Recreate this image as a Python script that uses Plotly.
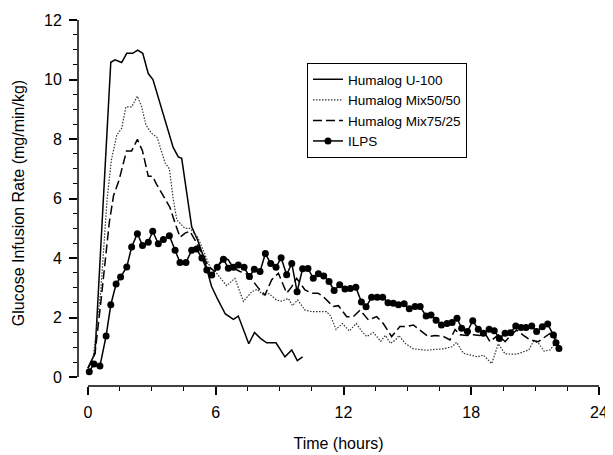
import plotly.graph_objects as go

# ---- data (hours, mg/min/kg) ----
u100_t = [0, 0.33, 1.07, 1.27, 1.58, 1.82, 2.1, 2.33, 2.57, 2.83, 3.05, 3.5, 4.0, 4.24, 4.4, 4.87, 5.15, 5.42, 5.8, 6.1, 6.45, 6.83, 7.06, 7.55, 7.82, 8.1, 8.39, 8.83, 9.25, 9.57, 9.83, 10.08]
u100_v = [0.3, 0.8, 10.58, 10.66, 10.57, 10.88, 10.88, 10.99, 10.88, 10.2, 10.0, 8.9, 7.72, 7.4, 7.35, 5.05, 4.6, 4.05, 3.05, 2.6, 2.12, 1.94, 2.05, 1.12, 1.5, 1.3, 1.15, 1.15, 0.68, 0.91, 0.55, 0.68]

mix50_t = [0, 0.25, 0.6, 0.9, 1.1, 1.35, 1.58, 1.78, 2.05, 2.32, 2.52, 2.72, 2.99, 3.25, 3.62, 3.82, 4.0, 4.17, 4.32, 4.55, 4.79, 5.15, 5.45, 5.73, 6.04, 6.51, 6.9, 7.3, 7.69, 7.95, 8.23, 8.5, 8.86, 9.1, 9.41, 9.6, 9.85, 10.19, 10.5, 10.9, 11.2, 11.4, 11.65, 11.95, 12.27, 12.6, 12.9, 13.1, 13.4, 13.75, 13.97, 14.2, 14.45, 14.6, 14.9, 15.28, 15.6, 15.9, 16.3, 16.7, 17.1, 17.31, 17.63, 17.95, 18.3, 18.57, 18.96, 19.27, 19.59, 19.9, 20.13, 20.45, 20.7, 20.92, 21.15, 21.42, 21.7, 21.93, 22.09]
mix50_v = [0.3, 0.7, 2.9, 6.0, 7.3, 8.13, 8.36, 9.08, 9.08, 9.44, 9.08, 8.47, 8.19, 8.05, 7.2, 7.0, 6.0, 5.28, 5.17, 5.0, 5.0, 4.7, 4.2, 3.7, 3.49, 3.07, 3.32, 2.54, 2.87, 2.95, 2.76, 2.8, 2.59, 2.55, 2.64, 2.4, 2.59, 2.25, 2.2, 2.2, 2.2, 2.05, 1.6, 1.8, 1.55, 1.8, 1.5, 1.36, 1.5, 1.2, 1.4, 1.13, 1.25, 1.4, 1.13, 0.95, 0.93, 0.9, 0.93, 0.95, 1.02, 1.17, 0.8, 0.75, 0.68, 0.74, 0.45, 1.12, 0.78, 0.77, 0.77, 0.85, 0.91, 1.2, 1.15, 0.87, 0.91, 1.12, 1.02]

mix75_t = [0, 0.33, 0.6, 1.0, 1.2, 1.45, 1.81, 2.05, 2.32, 2.56, 2.83, 3.04, 3.2, 3.54, 3.85, 4.09, 4.32, 4.56, 4.79, 5.26, 5.65, 5.95, 6.36, 6.59, 6.83, 7.14, 7.53, 8.0, 8.31, 8.63, 8.94, 9.33, 9.57, 9.8, 10.19, 10.51, 10.8, 11.05, 11.52, 11.76, 12.15, 12.46, 12.78, 13.17, 13.56, 13.87, 14.26, 14.65, 14.97, 15.28, 15.6, 15.98, 16.3, 16.7, 17.0, 17.24, 17.47, 17.8, 18.1, 18.4, 18.65, 18.88, 19.27, 19.59, 19.85, 20.13, 20.45, 20.76, 21.15, 21.46, 21.7, 22.0]
mix75_v = [0.3, 0.8, 2.5, 5.2, 6.1, 6.6, 7.6, 7.6, 7.99, 7.6, 6.75, 6.75, 6.5, 6.08, 5.7, 5.17, 4.7, 4.84, 4.9, 4.3, 3.72, 3.55, 4.03, 3.94, 3.66, 3.55, 3.44, 2.99, 2.76, 3.27, 3.49, 2.82, 3.04, 3.32, 2.93, 2.82, 2.82, 2.7, 2.37, 2.4, 2.03, 2.03, 2.25, 1.92, 2.03, 1.8, 1.36, 1.7, 1.7, 1.75, 1.58, 1.36, 1.4, 1.36, 1.25, 1.6, 1.42, 1.4, 1.42, 1.4, 1.47, 1.19, 1.42, 1.19, 1.4, 1.58, 1.4, 1.25, 1.19, 1.36, 1.47, 1.3]

ilps_t = [0.06, 0.28, 0.56, 0.85, 1.07, 1.32, 1.53, 1.82, 2.05, 2.32, 2.56, 2.83, 3.04, 3.3, 3.54, 3.82, 4.09, 4.32, 4.6, 4.87, 5.1, 5.35, 5.58, 5.81, 6.07, 6.36, 6.59, 6.83, 7.06, 7.33, 7.58, 7.81, 8.08, 8.33, 8.58, 8.83, 9.07, 9.33, 9.57, 9.82, 10.08, 10.33, 10.58, 10.82, 11.07, 11.32, 11.56, 11.82, 12.07, 12.32, 12.58, 12.84, 13.06, 13.32, 13.58, 13.84, 14.09, 14.34, 14.58, 14.85, 15.09, 15.36, 15.6, 15.88, 16.11, 16.35, 16.6, 16.86, 17.1, 17.33, 17.55, 17.82, 18.07, 18.33, 18.57, 18.84, 19.08, 19.32, 19.59, 19.85, 20.09, 20.34, 20.57, 20.84, 21.07, 21.34, 21.59, 21.86, 21.98, 22.12]
ilps_v = [0.18, 0.44, 0.37, 1.38, 2.43, 3.13, 3.36, 3.7, 4.37, 4.82, 4.42, 4.53, 4.9, 4.48, 4.62, 4.75, 4.26, 3.85, 3.85, 4.26, 4.3, 4.0, 3.6, 3.43, 3.69, 3.96, 3.66, 3.69, 3.77, 3.69, 3.38, 3.62, 3.55, 4.15, 3.82, 3.69, 4.01, 3.44, 3.82, 2.87, 3.64, 3.65, 3.32, 3.47, 3.4, 3.21, 2.91, 3.1, 2.96, 2.98, 3.02, 2.52, 2.36, 2.68, 2.68, 2.68, 2.5, 2.48, 2.43, 2.46, 2.3, 2.37, 2.37, 2.05, 2.09, 1.91, 1.75, 1.8, 1.83, 1.98, 1.64, 1.53, 1.89, 1.61, 1.47, 1.61, 1.56, 1.3, 1.47, 1.49, 1.72, 1.67, 1.67, 1.72, 1.53, 1.69, 1.78, 1.41, 1.15, 0.96]

series_names = ["Humalog U-100", "Humalog Mix50/50", "Humalog Mix75/25", "ILPS"]

x_ticks = [0, 6, 12, 18, 24]
y_ticks = [0, 2, 4, 6, 8, 10, 12]

FONT = "Liberation Sans, Arial, sans-serif"

fig = go.Figure()
fig.add_trace(go.Scatter(x=u100_t, y=u100_v, name=series_names[0], mode="lines",
                         line=dict(color="black", width=1.5)))
fig.add_trace(go.Scatter(x=mix50_t, y=mix50_v, name=series_names[1], mode="lines",
                         line=dict(color="#333333", width=1.2, dash="1.5px,1.5px")))
fig.add_trace(go.Scatter(x=mix75_t, y=mix75_v, name=series_names[2], mode="lines",
                         line=dict(color="black", width=1.5, dash="9px,4px")))
fig.add_trace(go.Scatter(x=ilps_t, y=ilps_v, name=series_names[3], mode="lines+markers",
                         line=dict(color="black", width=1.5),
                         marker=dict(color="black", size=7)))

# the page places the figure 8px in from the top-left corner, so size it to fit the window
fig.update_layout(
    width=605, height=447,
    margin=dict(l=70, r=14, t=12, b=69),
    paper_bgcolor="white", plot_bgcolor="white",
    font=dict(family=FONT, size=16, color="black"),
    showlegend=True,
    legend=dict(x=0.4395, y=0.8825, xanchor="left", yanchor="top",
                bgcolor="white", bordercolor="black", borderwidth=1,
                font=dict(size=13.5, family=FONT), tracegroupgap=0,
                itemwidth=30),
)
fig.update_xaxes(
    range=[-0.47, 24], tickvals=x_ticks, ticktext=[str(v) for v in x_ticks],
    showgrid=False, zeroline=False, showline=False, automargin=False,
    ticks="outside", ticklen=8, tickwidth=1.5, tickcolor="black",
    minor=dict(dtick=1.5, tick0=0, ticks="outside", ticklen=4, tickwidth=1.2, tickcolor="black", showgrid=False),
    title=dict(text="Time (hours)", font=dict(size=16), standoff=17),
    tickfont=dict(size=16), ticklabelstandoff=4,
)
fig.update_yaxes(
    range=[-0.30, 12], tickvals=y_ticks, ticktext=[str(v) for v in y_ticks],
    showgrid=False, zeroline=False, showline=False, automargin=False,
    ticks="outside", ticklen=8, tickwidth=1.5, tickcolor="black",
    minor=dict(dtick=0.5, tick0=0, ticks="outside", ticklen=4, tickwidth=1.2, tickcolor="black", showgrid=False),
    title=dict(text="Glucose Infusion Rate (mg/min/kg)", font=dict(size=16), standoff=15),
    tickfont=dict(size=16), ticklabelstandoff=4,
)
# detached axis lines (SigmaPlot style)
fig.add_shape(type="line", xref="x", yref="paper", x0=x_ticks[0], x1=x_ticks[-1], y0=0, y1=0,
              line=dict(color="black", width=1.5))
fig.add_shape(type="line", xref="paper", yref="y", x0=0, x1=0, y0=y_ticks[0], y1=y_ticks[-1],
              line=dict(color="black", width=1.5))

fig.write_html("out.html")
